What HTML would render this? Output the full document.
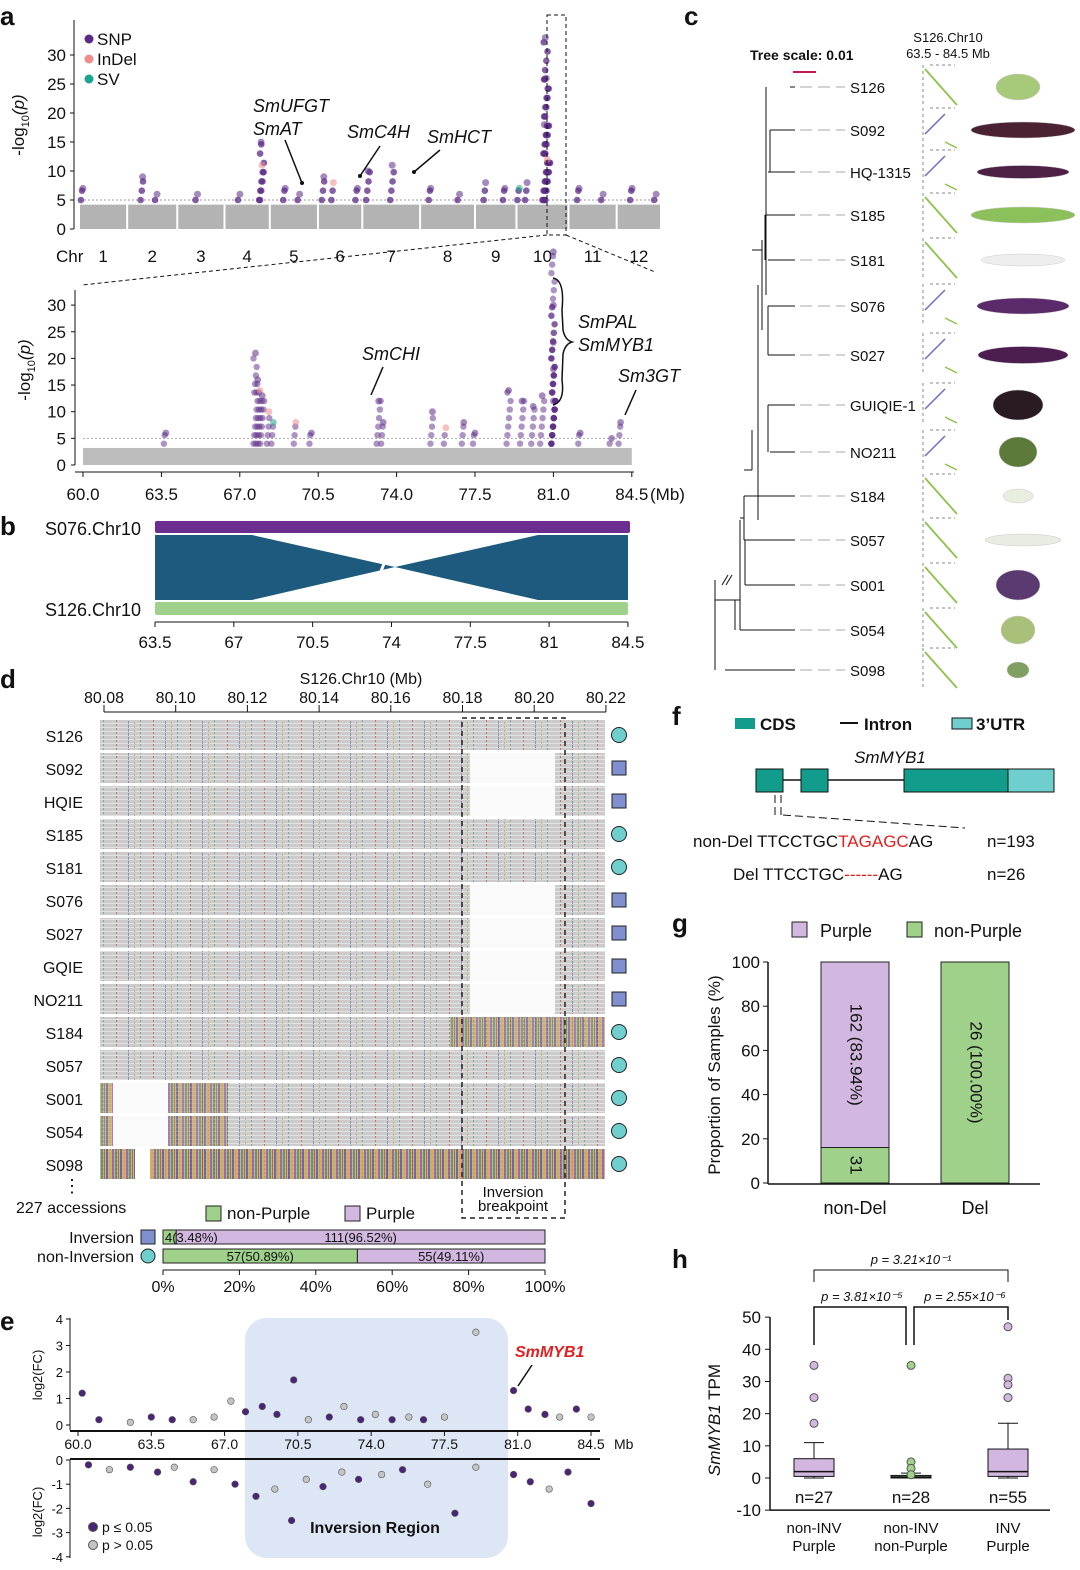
<!DOCTYPE html>
<html><head><meta charset="utf-8"><style>
body{margin:0;background:#fff}
svg{display:block;font-family:"Liberation Sans",sans-serif}
</style></head><body>
<svg id="fig" width="1080" height="1570" viewBox="0 0 1080 1570" xmlns="http://www.w3.org/2000/svg">
<defs>
<pattern id="sparse" width="37" height="4" patternUnits="userSpaceOnUse">
<rect width="37" height="4" fill="#cbcbcb"/>
<line x1="0" y1="3.5" x2="37" y2="3.5" stroke="#e2e2e2" stroke-width="1"/>
<rect x="5" y="0" width="1" height="2" fill="#c0392b" opacity="0.6"/><rect x="17" y="1" width="1" height="3" fill="#3b4fa0" opacity="0.5"/><rect x="29" y="0" width="1" height="2" fill="#2e8b57" opacity="0.5"/><rect x="23" y="2" width="1" height="2" fill="#b8860b" opacity="0.5"/>
</pattern>
<pattern id="dense" width="14" height="6" patternUnits="userSpaceOnUse">
<rect width="14" height="6" fill="#c9a66b"/>
<rect x="0" width="2" height="6" fill="#8e44ad"/><rect x="3" width="2" height="6" fill="#2e8b57"/><rect x="6" width="1" height="6" fill="#c0392b"/><rect x="8" width="2" height="6" fill="#3b4fa0"/><rect x="11" width="2" height="6" fill="#d4a017"/>
</pattern>
</defs>
<g id="root"></g>
</svg>
<script>
// ===== data =====
const chrNames=['1','2','3','4','5','6','7','8','9','10','11','12'];
const chrLen=[96,100,94,90,96,88,116,110,82,104,96,88];
// [chr index, Mb within chr, -log10p, type]
const topPeaks=[[0,6,7,'SNP'],[1,30,9,'SNP'],[1,60,6,'SNP'],[2,40,6,'SNP'],[3,30,6,'SNP'],[3,74,15,'SNP'],[3,76,11,'InDel'],[4,30,7,'SNP'],[4,60,6,'SNP'],[5,10,9,'SNP'],[5,30,8,'InDel'],[5,80,7,'SNP'],[6,10,10,'SNP'],[6,60,11,'SNP'],[7,20,7,'SNP'],[7,80,6,'SNP'],[8,20,8,'SNP'],[8,60,7,'SNP'],[9,4,7,'SV'],[9,20,8,'SNP'],[9,56,18,'SNP'],[9,58,33,'SNP'],[9,60,26,'SNP'],[9,62,12,'InDel'],[10,20,7,'SNP'],[10,70,6,'SNP'],[11,30,7,'SNP'],[11,80,6,'SNP']];
// zoom region [Mb, -log10p, type]
const zoomPts=[[63.7,6,'SNP'],[67.7,21,'SNP'],[67.8,16,'SNP'],[67.9,14,'InDel'],[68.0,13,'SNP'],[68.3,10,'InDel'],[68.5,8,'SV'],[69.5,8,'InDel'],[70.2,6,'SNP'],[73.2,12,'SNP'],[73.4,8,'SNP'],[75.6,10,'SNP'],[76.2,7,'InDel'],[77.0,8,'SNP'],[77.5,6,'SNP'],[79.0,14,'SNP'],[79.6,12,'SNP'],[80.1,11,'SNP'],[80.5,13,'SNP'],[81.0,40,'SNP'],[81.0,30,'SNP'],[81.0,23,'SNP'],[81.0,18,'SNP'],[81.0,12,'SNP'],[82.2,6,'SNP'],[83.6,5,'SNP'],[84.0,8,'SNP']];
const accessions=['S126','S092','HQIE','S185','S181','S076','S027','GQIE','NO211','S184','S057','S001','S054','S098'];
const inversionFlag=[0,1,1,0,0,1,1,1,1,0,0,0,0,0];
const groupNames=['Inversion','non-Inversion'];
const greenCounts=[4,57];
const purpleCounts=[111,55];
const greenLabels=['4(3.48%)','57(50.89%)'];
const purpleLabels=['111(96.52%)','55(49.11%)'];
const pctTicks=[0,20,40,60,80,100];
// panel e [Mb, log2FC, significant]
const fcUp=[[60.2,1.2,1],[61,0.2,1],[62.5,0.1,0],[63.5,0.3,1],[64.5,0.2,1],[65.5,0.2,0],[66.5,0.3,0],[67.3,0.9,0],[68,0.5,1],[68.8,0.7,1],[69.5,0.4,1],[70.3,1.7,1],[71,0.2,0],[72,0.3,1],[72.7,0.7,0],[73.5,0.2,1],[74.2,0.4,0],[75,0.2,1],[75.8,0.3,0],[76.5,0.2,1],[77.5,0.3,0],[79,3.5,0],[80.8,1.3,1],[81.5,0.6,1],[82.3,0.4,1],[83,0.3,0],[83.8,0.6,1],[84.5,0.3,0]];
const fcDown=[[60.5,-0.2,1],[61.5,-0.4,0],[62.5,-0.3,1],[63.8,-0.5,1],[64.6,-0.3,0],[65.5,-0.9,1],[66.5,-0.4,0],[67.5,-1.0,1],[68.5,-1.5,1],[69.4,-1.2,0],[70.2,-2.5,1],[70.9,-0.8,0],[71.7,-1.1,1],[72.6,-0.5,0],[73.4,-0.8,1],[74.5,-0.6,0],[75.5,-0.4,1],[76.7,-1.0,0],[78,-2.2,1],[79,-0.3,0],[80.8,-0.6,1],[81.6,-0.9,1],[82.5,-1.2,0],[83.4,-0.5,1],[84.5,-1.8,1]];
// panel g
const gCats=['non-Del','Del'];
const gGreen=[31,26];
const gPurple=[162,0];
// panel h [whiskLo,q1,med,q3,whiskHi]
const hCats=['non-INV\nPurple','non-INV\nnon-Purple','INV\nPurple'];
const hBoxes=[[0,0.5,2,6,11],[0,0,0.3,0.8,1.5],[0,0.5,2,9,17]];
const hOutliers=[[35,25,17],[35,5,3,1],[47,31,29,25]];
const hN=['n=27','n=28','n=55'];

const NS='http://www.w3.org/2000/svg';
const root=document.getElementById('root');
function el(tag,attrs,parent,text){const e=document.createElementNS(NS,tag);for(const k in attrs)e.setAttribute(k,attrs[k]);if(text!==undefined)e.textContent=text;(parent||root).appendChild(e);return e;}
function txt(x,y,s,size,opts){opts=opts||{};const t=el('text',Object.assign({x:x,y:y,'font-size':size,fill:opts.fill||'#111','text-anchor':opts.anchor||'start'},opts.extra||{}),opts.parent,s);if(opts.italic)t.setAttribute('font-style','italic');if(opts.bold)t.setAttribute('font-weight','bold');return t;}
function logTitle(x,y,parent){const t=txt(x,y,'-log',17,{anchor:'middle',parent:parent,name:'y-axis-title',extra:{transform:'rotate(-90 '+x+' '+y+')'}});
 el('tspan',{'font-size':11,dy:5},t,'10');el('tspan',{'font-style':'italic',dy:-5},t,'(p)');}
const col={SNP:'#5b2a86',InDel:'#f08c8c',SV:'#1aa58a'};

// panel letters
[['a',0,25],['b',0,535],['c',684,25],['d',0,688],['e',0,1330],['f',672,725],['g',672,932],['h',672,1268]].forEach(p=>txt(p[1],p[2],p[0],26,{bold:true,name:'panel-letter-'+p[0]}));

// ===== panel a top =====
const gA=el('g',{});
const ayT=v=>229-v*5.8;
const total=chrLen.reduce((a,b)=>a+b,0);
const axX0=80,axX1=660;
const pxPerMb=(axX1-axX0-22)/total;
let cum=[];let acc=axX0;chrLen.forEach((l,i)=>{cum.push(acc);acc+=l*pxPerMb+2;});
const chrX=(c,mb)=>cum[c]+mb*pxPerMb;
el('line',{x1:74,y1:229,x2:74,y2:20,stroke:'#111'},gA);
[0,5,10,15,20,25,30].forEach(v=>{el('line',{x1:70,y1:ayT(v),x2:74,y2:ayT(v),stroke:'#111'},gA);txt(66,ayT(v)+6,String(v),17,{anchor:'end',parent:gA,name:'y-tick'});});
chrLen.forEach((l,i)=>{const r=el('rect',{x:cum[i],y:ayT(4.2),width:l*pxPerMb,height:ayT(0)-ayT(4.2),fill:'#b3b3b3'},gA);
 txt(cum[i]+l*pxPerMb/2,262,chrNames[i],17,{anchor:'middle',parent:gA,name:'chr-label'});});
txt(56,262,'Chr',17,{parent:gA,name:'x-axis-title'});
el('line',{x1:80,y1:ayT(5),x2:660,y2:ayT(5),stroke:'#999','stroke-dasharray':'2,2'},gA);
topPeaks.forEach(p=>{const x=chrX(p[0],p[1]);for(let v=5;v<p[2];v+=1.6){const c=el('circle',{cx:x+((v*7)%5-2),cy:ayT(v),r:3.3,fill:col.SNP,opacity:0.75},gA);}
 const c=el('circle',{cx:x,cy:ayT(p[2]),r:3.5,fill:col[p[3]],opacity:0.55},gA);});
logTitle(24,125,gA);
[['SNP',45],['InDel',65],['SV',85]].forEach(l=>{el('circle',{cx:89,cy:l[1]-6,r:4.5,fill:col[l[0]]},gA);txt(97,l[1],l[0],17,{parent:gA,name:'legend-'+l[0]});});
txt(253,112,'SmUFGT',18,{italic:true,parent:gA,name:'gene-label'});txt(253,135,'SmAT',18,{italic:true,parent:gA,name:'gene-label'});
txt(347,138,'SmC4H',18,{italic:true,parent:gA,name:'gene-label'});txt(427,143,'SmHCT',18,{italic:true,parent:gA,name:'gene-label'});
[[285,140,302,183],[380,146,360,176],[440,150,414,172]].forEach(a=>{el('line',{x1:a[0],y1:a[1],x2:a[2],y2:a[3],stroke:'#111','stroke-width':1.5},gA);el('circle',{cx:a[2],cy:a[3],r:2,fill:'#111'},gA);});
el('rect',{x:547,y:15,width:19,height:220,fill:'none',stroke:'#111','stroke-dasharray':'4,3'},gA);
el('line',{x1:547,y1:235,x2:82,y2:285,stroke:'#111','stroke-dasharray':'4,3'},gA);
el('line',{x1:566,y1:235,x2:655,y2:272,stroke:'#111','stroke-dasharray':'4,3'},gA);

// ===== panel a zoom =====
const gZ=el('g',{});
const zx=mb=>83+(mb-60)*22.4, zy=v=>465-v*5.33;
el('line',{x1:75,y1:465,x2:75,y2:290,stroke:'#111'},gZ);
el('line',{x1:75,y1:472,x2:634,y2:472,stroke:'#111'},gZ);
[0,5,10,15,20,25,30].forEach(v=>{el('line',{x1:71,y1:zy(v),x2:75,y2:zy(v),stroke:'#111'},gZ);txt(66,zy(v)+6,String(v),17,{anchor:'end',parent:gZ,name:'y-tick'});});
[60,63.5,67,70.5,74,77.5,81,84.5].forEach(v=>{el('line',{x1:zx(v),y1:472,x2:zx(v),y2:477,stroke:'#111'},gZ);txt(zx(v),500,v.toFixed(1),17,{anchor:'middle',parent:gZ,name:'x-tick'});});
txt(650,500,'(Mb)',17,{parent:gZ,name:'x-axis-unit'});
el('rect',{x:zx(60),y:zy(3.2),width:zx(84.5)-zx(60),height:zy(0)-zy(3.2),fill:'#bdbdbd'},gZ);
el('line',{x1:83,y1:zy(5),x2:632,y2:zy(5),stroke:'#aaa','stroke-dasharray':'2,2'},gZ);
zoomPts.forEach(p=>{for(let v=4;v<p[1];v+=1.6){const c=el('circle',{cx:zx(p[0])+((v*3)%4-2),cy:zy(v),r:3.2,fill:col.SNP,opacity:0.5},gZ);}
 const c=el('circle',{cx:zx(p[0]),cy:zy(p[1]),r:3.4,fill:col[p[2]],opacity:0.55},gZ);});
logTitle(30,370,gZ);
txt(362,360,'SmCHI',18,{italic:true,parent:gZ,name:'gene-label'});
el('line',{x1:383,y1:367,x2:371,y2:395,stroke:'#111','stroke-width':1.5},gZ);
txt(578,328,'SmPAL',18,{italic:true,parent:gZ,name:'gene-label'});txt(578,351,'SmMYB1',18,{italic:true,parent:gZ,name:'gene-label'});
el('path',{d:'M553,278 Q565,280 562,310 L563,330 Q565,340 572,342 Q565,344 563,354 L562,380 Q565,402 553,405',fill:'none',stroke:'#111','stroke-width':1.5},gZ);
txt(618,382,'Sm3GT',18,{italic:true,parent:gZ,name:'gene-label'});
el('line',{x1:636,y1:390,x2:625,y2:415,stroke:'#111','stroke-width':1.5},gZ);

// ===== panel b =====
const gB=el('g',{});
txt(45,535,'S076.Chr10',18,{parent:gB,name:'track-label'});txt(45,616,'S126.Chr10',18,{parent:gB,name:'track-label'});
el('rect',{x:155,y:521,width:475,height:12,fill:'#6c2d91',rx:2},gB);
el('rect',{x:155,y:602,width:473,height:13,fill:'#9fd18a',rx:2},gB);
el('rect',{x:155,y:535,width:97,height:65,fill:'#1d5a7e'},gB);
el('rect',{x:538,y:535,width:90,height:65,fill:'#1d5a7e'},gB);
el('polygon',{points:'252,535 252,600 395,567',fill:'#1d5a7e'},gB);
el('polygon',{points:'538,535 538,600 395,567',fill:'#1d5a7e'},gB);
el('line',{x1:370,y1:600,x2:395,y2:535,stroke:'#fff','stroke-width':3},gB);
el('line',{x1:155,y1:622,x2:628,y2:622,stroke:'#111'},gB);
[63.5,67,70.5,74,77.5,81,84.5].forEach((v,i)=>{const x=155+(v-63.5)*22.52;el('line',{x1:x,y1:622,x2:x,y2:627,stroke:'#111'},gB);txt(x,648,String(v),17,{anchor:'middle',parent:gB,name:'x-tick'});});

// ===== panel c =====
const gC=el('g',{});
const treeNames=['S126','S092','HQ-1315','S185','S181','S076','S027','GUIQIE-1','NO211','S184','S057','S001','S054','S098'];
const treeY=[87,130,172,215,260,306,355,405,452,496,540,585,630,670];
const leafX=[790,770,768,765,768,768,768,768,770,744,744,745,740,725];
const fruitCol=['#a7c97a','#4a2232','#4d2045','#8cc05a','#eeeeee','#5a2a6a','#4b1e4f','#2a1a22','#5e7a3a','#e8eee0','#e8ece2','#5a3a70','#a8c07a','#7fa060'];
const fruitW=[44,104,92,104,84,92,90,50,38,30,76,44,34,22];
const fruitH=[26,16,13,16,12,16,17,30,30,14,12,30,28,16];
txt(750,60,'Tree scale: 0.01',14,{bold:true,parent:gC,name:'tree-scale'});
el('line',{x1:793,y1:72,x2:816,y2:72,stroke:'#c2185b','stroke-width':2},gC);
txt(948,42,'S126.Chr10',13,{anchor:'middle',parent:gC,name:'dotplot-title'});txt(948,58,'63.5 - 84.5 Mb',13,{anchor:'middle',parent:gC,name:'dotplot-subtitle'});
treeNames.forEach((n,i)=>{const y=treeY[i];
 el('line',{x1:leafX[i],y1:y,x2:795,y2:y,stroke:'#111'},gC);
 el('line',{x1:800,y1:y,x2:845,y2:y,stroke:'#aaa','stroke-dasharray':'12,6'},gC);
 txt(850,y+6,n,15,{parent:gC,name:'leaf-label'});
 const dg=el('g',{},gC);
 el('line',{x1:923,y1:y-22,x2:923,y2:y+20,stroke:'#888','stroke-dasharray':'3,3'},dg);
 el('line',{x1:930,y1:y-22,x2:955,y2:y-22,stroke:'#888','stroke-dasharray':'3,3'},dg);
 if(inversionFlag[i]||n==='HQ-1315'||n==='GUIQIE-1'||n==='NO211'){el('line',{x1:925,y1:y+4,x2:945,y2:y-16,stroke:'#6b6bc8','stroke-width':1.5},dg);el('line',{x1:945,y1:y+12,x2:957,y2:y+18,stroke:'#8bc34a','stroke-width':1.5},dg);}
 else el('line',{x1:925,y1:y-18,x2:957,y2:y+18,stroke:'#8bc34a','stroke-width':1.8},dg);
 const f=el('ellipse',{cx:1018+(fruitW[i]>60?5:0),cy:y,rx:fruitW[i]/2,ry:fruitH[i]/2,fill:fruitCol[i],stroke:'#ccc','stroke-width':0.5},gC);
});
[[766,87,295],[770,130,172],[765,215,260],[762,240,330],[768,306,355],[758,285,520],[768,405,452],[752,430,470],[744,496,540],[745,540,585],[740,520,630],[715,580,670],[735,600,630]].forEach(b=>el('line',{x1:b[0],y1:b[1],x2:b[0],y2:b[2],stroke:'#111'},gC));
[[752,762,250],[744,752,470],[740,744,518],[735,740,600],[715,735,600]].forEach(b=>el('line',{x1:b[0],y1:b[2],x2:b[1],y2:b[2],stroke:'#111'},gC));
el('line',{x1:722,y1:585,x2:728,y2:575,stroke:'#111'},gC);el('line',{x1:726,y1:585,x2:732,y2:575,stroke:'#111'},gC);

// ===== panel d =====
const gD=el('g',{});
txt(361,684,'S126.Chr10 (Mb)',16,{anchor:'middle',parent:gD,name:'axis-title'});
el('line',{x1:104,y1:712,x2:606,y2:712,stroke:'#111'},gD);
['80.08','80.10','80.12','80.14','80.16','80.18','80.20','80.22'].forEach((t,i)=>{const x=104+i*71.7;el('line',{x1:x,y1:705,x2:x,y2:712,stroke:'#111'},gD);txt(x,703,t,16,{anchor:'middle',parent:gD,name:'x-tick'});});
accessions.forEach((a,i)=>{const y=720+i*33;
 const r=el('rect',{x:100,y:y,width:505,height:30,fill:'url(#sparse)'},gD);
 if(inversionFlag[i])el('rect',{x:470,y:y,width:85,height:30,fill:'#fafafa'},gD);
 if(a==='S184')el('rect',{x:450,y:y,width:155,height:30,fill:'url(#dense)',opacity:0.6},gD);
 if(a==='S001'||a==='S054'){el('rect',{x:100,y:y,width:13,height:30,fill:'url(#dense)',opacity:0.6},gD);el('rect',{x:113,y:y,width:55,height:30,fill:'#fafafa'},gD);el('rect',{x:168,y:y,width:60,height:30,fill:'url(#dense)',opacity:0.6},gD);}
 if(a==='S098'){el('rect',{x:100,y:y,width:505,height:30,fill:'url(#dense)',opacity:0.75},gD);el('rect',{x:135,y:y,width:15,height:30,fill:'#fff'},gD);}
 txt(83,y+22,a,16,{anchor:'end',parent:gD,name:'accession-label'});
 const m=inversionFlag[i]?el('rect',{x:612,y:y+8,width:14,height:14,fill:'#7f8fd0',stroke:'#222'},gD):el('circle',{cx:619,cy:y+15,r:7.5,fill:'#6fcfcf',stroke:'#222'},gD);
 });
el('rect',{x:462,y:718,width:103,height:500,fill:'none',stroke:'#222','stroke-dasharray':'5,4','stroke-width':1.5},gD);
txt(513,1197,'Inversion',15,{anchor:'middle',parent:gD,name:'inversion-label'});txt(513,1211,'breakpoint',15,{anchor:'middle',parent:gD,name:'inversion-label'});
txt(63,1192,'⋮',18,{parent:gD,name:'ellipsis'});
txt(16,1213,'227 accessions',16,{parent:gD,name:'accession-count'});
el('rect',{x:206,y:1206,width:15,height:15,fill:'#9fd18a',stroke:'#222'},gD);txt(227,1219,'non-Purple',17,{parent:gD,name:'legend-non-purple'});
el('rect',{x:345,y:1206,width:15,height:15,fill:'#d2b7e0',stroke:'#222'},gD);txt(366,1219,'Purple',17,{parent:gD,name:'legend-purple'});
const sx=p=>163+p*3.82;
groupNames.forEach((g,i)=>{const y=1230+i*19;const tot=greenCounts[i]+purpleCounts[i];const gp=greenCounts[i]/tot*100;
 const b1=el('rect',{x:sx(0),y:y,width:sx(gp)-sx(0),height:14,fill:'#9fd18a',stroke:'#222'},gD);
 const b2=el('rect',{x:sx(gp),y:y,width:sx(100)-sx(gp),height:14,fill:'#d2b7e0',stroke:'#222'},gD);
 txt(gp<10?sx(0)+2:(sx(0)+sx(gp))/2,y+12,greenLabels[i],13,{anchor:gp<10?'start':'middle',parent:gD,name:'bar-value'});
 txt((sx(gp)+sx(100))/2,y+12,purpleLabels[i],13,{anchor:'middle',parent:gD,name:'bar-value'});
 txt(134,y+13,g,16,{anchor:'end',parent:gD,name:'group-label'});
 if(i===0)el('rect',{x:141,y:y,width:14,height:14,fill:'#7f8fd0',stroke:'#222'},gD);else el('circle',{cx:148,cy:y+7,r:7,fill:'#6fcfcf',stroke:'#222'},gD);});
el('line',{x1:sx(0),y1:1270,x2:sx(100),y2:1270,stroke:'#111'},gD);
pctTicks.forEach(p=>{el('line',{x1:sx(p),y1:1270,x2:sx(p),y2:1275,stroke:'#111'},gD);txt(sx(p),1292,p+'%',16,{anchor:'middle',parent:gD,name:'x-tick'});});

// ===== panel e =====
const gE=el('g',{});
const ex=mb=>78+(mb-60)*20.94, eyU=v=>1425-v*26.5, eyD=v=>1460-v*24.2;
el('rect',{x:245,y:1318,width:263,height:240,rx:22,fill:'#dde6f4'},gE);
el('line',{x1:70,y1:1318,x2:70,y2:1430,stroke:'#111'},gE);el('line',{x1:70,y1:1460,x2:70,y2:1558,stroke:'#111'},gE);
el('line',{x1:70,y1:1431,x2:600,y2:1431,stroke:'#111','stroke-width':2},gE);el('line',{x1:70,y1:1459,x2:600,y2:1459,stroke:'#111','stroke-width':2},gE);
[0,1,2,3,4].forEach(v=>{el('line',{x1:66,y1:eyU(v),x2:70,y2:eyU(v),stroke:'#111'},gE);txt(63,eyU(v)+5,String(v),13,{anchor:'end',parent:gE,name:'y-tick'});});
[0,-1,-2,-3,-4].forEach(v=>{el('line',{x1:66,y1:eyD(v),x2:70,y2:eyD(v),stroke:'#111'},gE);txt(63,eyD(v)+5,String(v),13,{anchor:'end',parent:gE,name:'y-tick'});});
[60,63.5,67,70.5,74,77.5,81,84.5].forEach(v=>{el('line',{x1:ex(v),y1:1431,x2:ex(v),y2:1436,stroke:'#111'},gE);txt(ex(v),1449,v.toFixed(1),14,{anchor:'middle',parent:gE,name:'x-tick'});});
txt(614,1449,'Mb',14,{parent:gE,name:'x-unit'});
[[fcUp,eyU],[fcDown,eyD]].forEach(s=>s[0].forEach(p=>{const c=el('circle',{cx:ex(p[0]),cy:s[1](p[1]),r:3.3,fill:p[2]?'#4b2477':'#c4c4c4',stroke:'#555','stroke-width':0.6},gE);}));
txt(42,1375,'log2(FC)',13,{anchor:'middle',parent:gE,name:'y-axis-title',extra:{transform:'rotate(-90 42 1375)'}});
txt(42,1512,'log2(FC)',13,{anchor:'middle',parent:gE,name:'y-axis-title',extra:{transform:'rotate(-90 42 1512)'}});
txt(375,1533,'Inversion Region',16,{anchor:'middle',bold:true,parent:gE,name:'region-label'});
txt(515,1357,'SmMYB1',16,{italic:true,bold:true,fill:'#e02020',parent:gE,name:'gene-label'});
el('line',{x1:532,y1:1365,x2:518,y2:1386,stroke:'#111','stroke-width':1.5},gE);
el('circle',{cx:93,cy:1527,r:4.5,fill:'#4b2477',stroke:'#555'},gE);txt(102,1532,'p ≤ 0.05',14,{parent:gE,name:'legend-sig'});
el('circle',{cx:93,cy:1545,r:4.5,fill:'#c4c4c4',stroke:'#555'},gE);txt(102,1550,'p > 0.05',14,{parent:gE,name:'legend-nonsig'});

// ===== panel f =====
const gF=el('g',{});
el('rect',{x:735,y:718,width:20,height:11,fill:'#129c8c'},gF);txt(760,730,'CDS',17,{bold:true,parent:gF,name:'legend-cds'});
el('line',{x1:840,y1:723,x2:858,y2:723,stroke:'#111','stroke-width':2},gF);txt(864,730,'Intron',17,{bold:true,parent:gF,name:'legend-intron'});
el('rect',{x:952,y:718,width:20,height:11,fill:'#6fcfcf',stroke:'#111'},gF);txt(976,730,'3’UTR',17,{bold:true,parent:gF,name:'legend-utr'});
txt(890,763,'SmMYB1',17,{anchor:'middle',italic:true,parent:gF,name:'gene-title'});
el('line',{x1:756,y1:780,x2:1050,y2:780,stroke:'#111','stroke-width':1.5},gF);
el('rect',{x:756,y:769,width:27,height:23,fill:'#129c8c',stroke:'#111'},gF);
el('rect',{x:801,y:769,width:27,height:23,fill:'#129c8c',stroke:'#111'},gF);
el('rect',{x:904,y:769,width:104,height:23,fill:'#129c8c',stroke:'#111'},gF);
el('rect',{x:1008,y:769,width:46,height:23,fill:'#6fcfcf',stroke:'#111'},gF);
el('path',{d:'M775,795 L775,815 M781,795 L781,815 M783,815 L965,828',fill:'none',stroke:'#111','stroke-dasharray':'8,4'},gF);
const t1=txt(693,847,'non-Del ',17,{parent:gF,name:'seq-nondel'});el('tspan',{},t1,'TTCCTGC');el('tspan',{fill:'#e02020'},t1,'TAGAGC');el('tspan',{},t1,'AG');
txt(987,847,'n=193',17,{parent:gF,name:'count'});
const t2=txt(733,880,'Del ',17,{parent:gF,name:'seq-del'});el('tspan',{},t2,'TTCCTGC');el('tspan',{fill:'#e02020'},t2,'------');el('tspan',{},t2,'AG');
txt(987,880,'n=26',17,{parent:gF,name:'count'});

// ===== panel g =====
const gG=el('g',{});
const gy=v=>1183-v*2.21;
el('rect',{x:792,y:922,width:15,height:15,fill:'#d2b7e0',stroke:'#222'},gG);txt(820,937,'Purple',18,{parent:gG,name:'legend-purple'});
el('rect',{x:907,y:922,width:15,height:15,fill:'#9fd18a',stroke:'#222'},gG);txt(934,937,'non-Purple',18,{parent:gG,name:'legend-non-purple'});
el('line',{x1:768,y1:962,x2:768,y2:1184,stroke:'#111','stroke-width':1.5},gG);el('line',{x1:768,y1:1184,x2:1040,y2:1184,stroke:'#111','stroke-width':1.5},gG);
[0,20,40,60,80,100].forEach(v=>{el('line',{x1:763,y1:gy(v),x2:768,y2:gy(v),stroke:'#111'},gG);txt(760,gy(v)+6,String(v),17,{anchor:'end',parent:gG,name:'y-tick'});});
txt(720,1075,'Proportion of Samples (%)',17,{anchor:'middle',parent:gG,name:'y-axis-title',extra:{transform:'rotate(-90 720 1075)'}});
gCats.forEach((c,i)=>{const cx=855+i*120;const tot=gGreen[i]+gPurple[i];const gp=gGreen[i]/tot*100;
 const b=el('rect',{x:cx-34,y:gy(gp),width:68,height:gy(0)-gy(gp),fill:'#9fd18a',stroke:'#222'},gG);
 if(gPurple[i]>0){const p=el('rect',{x:cx-34,y:gy(100),width:68,height:gy(gp)-gy(100),fill:'#d2b7e0',stroke:'#222'},gG);
  const my=(gy(100)+gy(gp))/2;txt(cx,my,gPurple[i]+' ('+(gPurple[i]/tot*100).toFixed(2)+'%)',17,{anchor:'middle',parent:gG,name:'bar-value',extra:{transform:'rotate(90 '+cx+' '+my+')','dominant-baseline':'middle'}});
  const gm=(gy(gp)+gy(0))/2;txt(cx,gm,String(gGreen[i]),17,{anchor:'middle',parent:gG,name:'bar-value',extra:{transform:'rotate(90 '+cx+' '+gm+')','dominant-baseline':'middle'}});}
 else{const my=(gy(100)+gy(0))/2;txt(cx,my,gGreen[i]+' ('+(gGreen[i]/tot*100).toFixed(2)+'%)',17,{anchor:'middle',parent:gG,name:'bar-value',extra:{transform:'rotate(90 '+cx+' '+my+')','dominant-baseline':'middle'}});}
 txt(cx,1214,c,18,{anchor:'middle',parent:gG,name:'x-label'});});

// ===== panel h =====
const gH=el('g',{});
const hy=v=>1478-v*3.217;
el('line',{x1:770,y1:hy(50),x2:770,y2:hy(-10),stroke:'#111','stroke-width':1.5},gH);el('line',{x1:770,y1:hy(-10),x2:1050,y2:hy(-10),stroke:'#111','stroke-width':1.5},gH);
[-10,0,10,20,30,40,50].forEach(v=>{el('line',{x1:765,y1:hy(v),x2:770,y2:hy(v),stroke:'#111'},gH);txt(761,hy(v)+6,String(v),17,{anchor:'end',parent:gH,name:'y-tick'});});
const ht=txt(720,1420,'SmMYB1',17,{anchor:'middle',italic:true,parent:gH,name:'y-axis-title',extra:{transform:'rotate(-90 720 1420)'}});el('tspan',{'font-style':'normal'},ht,' TPM');
const hFill=['#d2b7e0','#9fd18a','#d2b7e0'];
hBoxes.forEach((b,i)=>{const cx=814+i*97;
 el('line',{x1:cx,y1:hy(b[0]),x2:cx,y2:hy(b[4]),stroke:'#111'},gH);el('line',{x1:cx-10,y1:hy(b[4]),x2:cx+10,y2:hy(b[4]),stroke:'#111'},gH);el('line',{x1:cx-10,y1:hy(b[0]),x2:cx+10,y2:hy(b[0]),stroke:'#111'},gH);
 const r=el('rect',{x:cx-20,y:hy(b[3]),width:40,height:Math.max(1,hy(b[1])-hy(b[3])),fill:hFill[i],stroke:'#111'},gH);
 el('line',{x1:cx-20,y1:hy(b[2]),x2:cx+20,y2:hy(b[2]),stroke:'#111','stroke-width':1.5},gH);
 hOutliers[i].forEach(o=>{const c=el('circle',{cx:cx,cy:hy(o),r:4,fill:hFill[i],stroke:'#555'},gH);});
 txt(cx,1503,hN[i],17,{anchor:'middle',parent:gH,name:'n-label'});
 const ls=hCats[i].split('\n');txt(cx,1533,ls[0],15,{anchor:'middle',parent:gH,name:'x-label'});txt(cx,1551,ls[1],15,{anchor:'middle',parent:gH,name:'x-label'});});
el('path',{d:'M814,1282 L814,1270 L1008,1270 L1008,1282',fill:'none',stroke:'#111'},gH);txt(911,1264,'p = 3.21×10⁻¹',13,{anchor:'middle',italic:true,parent:gH,name:'p-value'});
el('path',{d:'M814,1345 L814,1307 L906,1307 L906,1345',fill:'none',stroke:'#111','stroke-width':1.5},gH);txt(862,1301,'p = 3.81×10⁻⁵',13,{anchor:'middle',italic:true,parent:gH,name:'p-value'});
el('path',{d:'M914,1345 L914,1307 L1008,1307 L1008,1320',fill:'none',stroke:'#111','stroke-width':1.5},gH);txt(965,1301,'p = 2.55×10⁻⁶',13,{anchor:'middle',italic:true,parent:gH,name:'p-value'});
</script>
</body></html>
